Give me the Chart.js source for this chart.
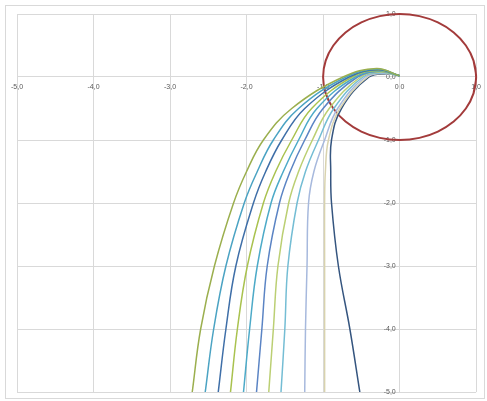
<!DOCTYPE html>
<html lang="en">
<head>
<meta charset="utf-8">
<title>Curves</title>
<script src="https://cdn.jsdelivr.net/npm/chart.js@4/dist/chart.umd.min.js"></script>
<style>
  html, body { margin: 0; padding: 0; background: #ffffff; overflow: hidden; }
  #wrap { width: 487px; height: 401px; }
</style>
</head>
<body>
<div id="wrap"><canvas id="chart-0"></canvas></div>
<script>
// axis ticks
var tickValues = [-5, -4, -3, -2, -1, 0, 1];
var tickLabels = ['-5,0', '-4,0', '-3,0', '-2,0', '-1,0', '0,0', '1,0'];

// every curve starts here, rises to its peak, then falls through these y levels
var startPoint = [0, 0.02];
var peakX = [-0.30, -0.29, -0.28, -0.27, -0.26, -0.25, -0.24, -0.22, -0.21, -0.19, -0.17];
var peakY = [0.135, 0.125, 0.115, 0.105, 0.095, 0.09, 0.08, 0.07, 0.06, 0.055, 0.05];
var levelY = [0, -0.5, -1, -1.5, -2, -3, -4, -5];
var curveX = [
  [-0.74, -1.41, -1.78, -2.00, -2.17, -2.42, -2.60, -2.71],
  [-0.70, -1.32, -1.65, -1.86, -2.03, -2.27, -2.43, -2.54],
  [-0.66, -1.24, -1.54, -1.75, -1.91, -2.14, -2.27, -2.37],
  [-0.62, -1.15, -1.41, -1.62, -1.78, -1.99, -2.12, -2.21],
  [-0.58, -1.08, -1.32, -1.52, -1.68, -1.86, -1.96, -2.04],
  [-0.55, -1.00, -1.24, -1.43, -1.57, -1.73, -1.80, -1.87],
  [-0.51, -0.92, -1.14, -1.32, -1.45, -1.59, -1.65, -1.71],
  [-0.48, -0.86, -1.06, -1.23, -1.34, -1.46, -1.50, -1.55],
  [-0.45, -0.81, -0.98, -1.12, -1.19, -1.21, -1.23, -1.24],
  [-0.42, -0.78, -0.93, -0.97, -0.98, -0.98, -0.98, -0.98],
  [-0.40, -0.76, -0.89, -0.90, -0.89, -0.80, -0.65, -0.52]
];
var curveColors = ['#9BAF4E', '#4BA3C3', '#3F6FA8', '#A9C24F', '#4DAAC8', '#5B84C4',
                   '#BBCF73', '#74BDD4', '#A7B9DD', '#D9D3AE', '#35557F'];

// unit circle, every 15 degrees, one extra step past each end so the join is smooth
var circleX = [0.966, 1, 0.966, 0.866, 0.707, 0.5, 0.259, 0, -0.259, -0.5, -0.707, -0.866, -0.966,
               -1, -0.966, -0.866, -0.707, -0.5, -0.259, 0, 0.259, 0.5, 0.707, 0.866, 0.966, 1, 0.966];
var circleY = [-0.259, 0, 0.259, 0.5, 0.707, 0.866, 0.966, 1, 0.966, 0.866, 0.707, 0.5, 0.259,
               0, -0.259, -0.5, -0.707, -0.866, -0.966, -1, -0.966, -0.866, -0.707, -0.5, -0.259, 0, 0.259];

var datasets = [];
for (var i = 0; i < curveX.length; i++) {
  var pts = [{x: startPoint[0], y: startPoint[1]}, {x: peakX[i], y: peakY[i]}];
  for (var k = 0; k < levelY.length; k++) {
    pts.push({x: curveX[i][k], y: levelY[k]});
  }
  datasets.push({
    data: pts,
    showLine: true,
    borderColor: curveColors[i],
    borderWidth: 1.5,
    pointRadius: 0,
    tension: 0.4,
    fill: false
  });
}
var circlePts = [];
for (var c = 0; c < circleX.length; c++) {
  circlePts.push({x: circleX[c], y: circleY[c]});
}
datasets.push({
  data: circlePts,
  showLine: true,
  borderColor: '#A33B3B',
  borderWidth: 2,
  pointRadius: 0,
  tension: 0.34,
  clip: false,
  fill: false
});

function label(v) {
  var idx = tickValues.indexOf(v);
  return idx >= 0 ? tickLabels[idx] : '';
}

var framePlugin = {
  id: 'frame',
  beforeDraw: function (chart) {
    var ctx = chart.ctx;
    ctx.save();
    ctx.fillStyle = '#ffffff';
    ctx.fillRect(0, 0, chart.width, chart.height);
    ctx.strokeStyle = '#D9D9D9';
    ctx.lineWidth = 1;
    ctx.strokeRect(5.5, 5.5, 479, 393);
    ctx.restore();
  }
};

var gridColor = '#D9D9D9';
var tickFont = {family: 'Liberation Sans', size: 7};

var chart = new Chart('chart-0', {
  type: 'scatter',
  data: {datasets: datasets},
  plugins: [framePlugin],
  options: {
    responsive: true,
    maintainAspectRatio: false,
    animation: false,
    layout: {padding: {left: 17, right: 6, top: 14, bottom: 9}},
    plugins: {legend: {display: false}, tooltip: {enabled: false}},
    scales: {
      x: {
        type: 'linear',
        position: {y: 0},
        min: -5, max: 1,
        grid: {color: gridColor, drawTicks: false},
        border: {color: gridColor},
        ticks: {
          stepSize: 1, padding: 6, color: '#595959', font: tickFont,
          maxRotation: 0,
          callback: function (v) { return label(v); }
        }
      },
      y: {
        type: 'linear',
        position: {x: 0},
        min: -5, max: 1,
        grid: {color: gridColor, drawTicks: false},
        border: {color: gridColor},
        ticks: {
          stepSize: 1, color: '#595959', font: tickFont,
          callback: function (v) { return label(v) + '  '; }
        }
      }
    }
  }
});
</script>
</body>
</html>
